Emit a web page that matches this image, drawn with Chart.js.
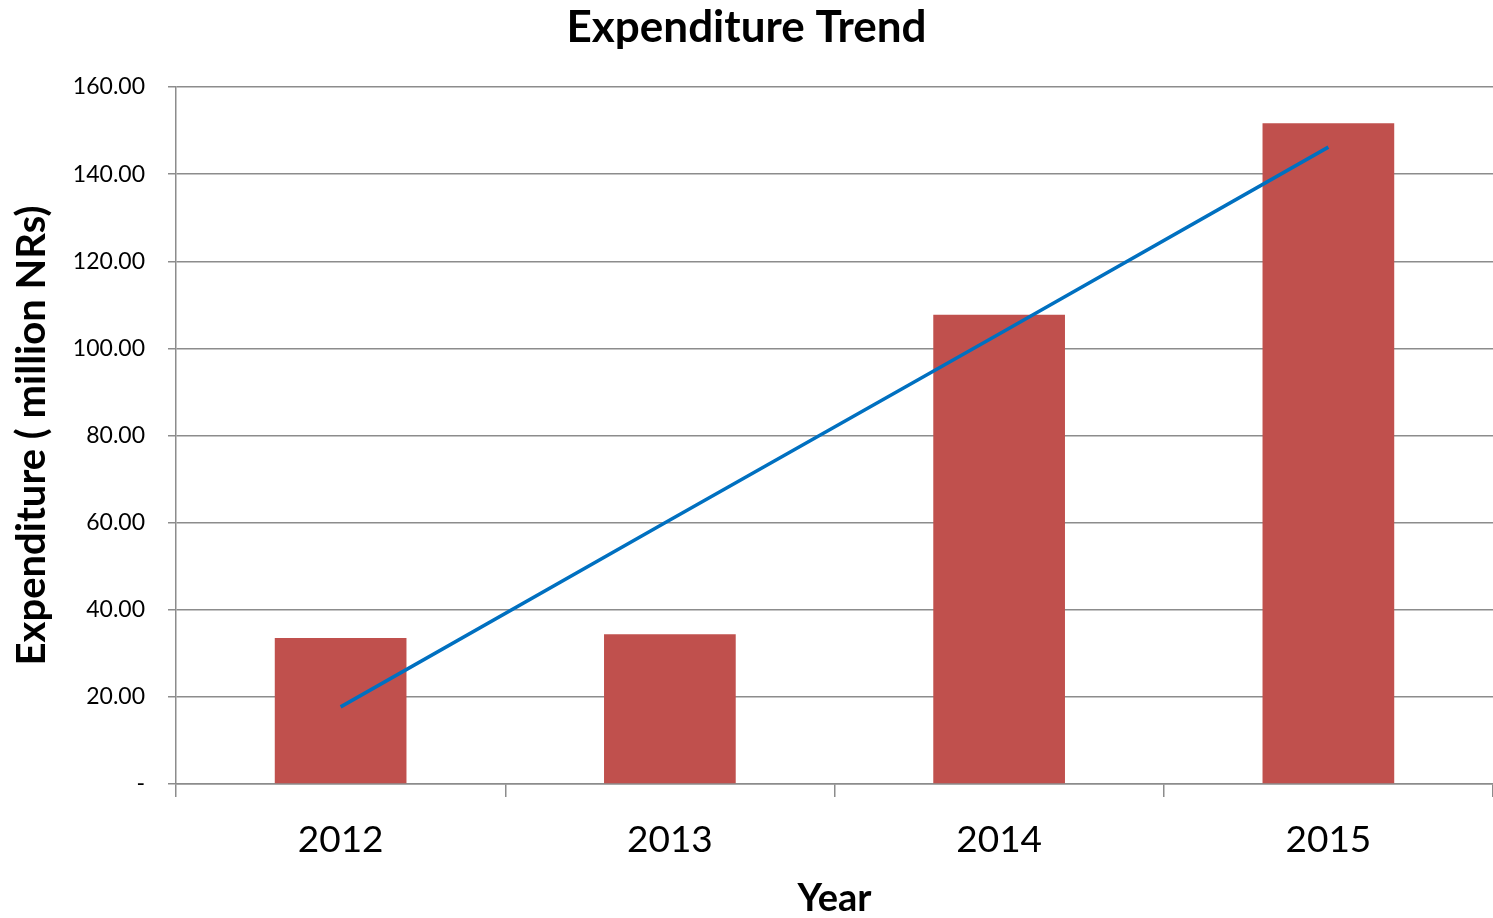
<!DOCTYPE html>
<html>
<head>
<meta charset="utf-8">
<script src="https://cdn.jsdelivr.net/npm/chart.js@4"></script>
<style>
html,body{margin:0;padding:0;background:#fff;}
#wrap{width:1493px;height:918px;position:relative;}
</style>
</head>
<body>
<div id="wrap"><canvas id="c"></canvas></div>
<script>
const years = ['2012', '2013', '2014', '2015'];
const expenditure = [33.5, 34.4, 107.7, 151.7];
const trend = [17.7, 60.6, 103.3, 146.2];
const yTicks = [0, 20, 40, 60, 80, 100, 120, 140, 160];

const FONT = 'Lato, Carlito, "Open Sans", sans-serif';
const GRID = '#8c8c8c';

new Chart(document.getElementById('c'), {
  data: {
    labels: years,
    datasets: [
      {
        type: 'line',
        label: 'Trend',
        data: trend,
        borderColor: '#0070C0',
        borderWidth: 3.5,
        pointRadius: 0,
        fill: false,
        tension: 0,
        order: 0
      },
      {
        type: 'bar',
        label: 'Expenditure',
        data: expenditure,
        backgroundColor: '#C0504D',
        barPercentage: 0.4,
        categoryPercentage: 1.0,
        order: 1
      }
    ]
  },
  options: {
    responsive: true,
    maintainAspectRatio: false,
    animation: false,
    layout: { padding: { left: 0, right: 0, top: 0, bottom: 0 } },
    plugins: {
      legend: { display: false },
      tooltip: { enabled: false },
      title: {
        display: true,
        text: 'Expenditure Trend',
        color: '#000',
        font: { family: FONT, size: 44, weight: 'bold', lineHeight: 1.2 },
        padding: { top: 1, bottom: 33.2 }
      }
    },
    scales: {
      x: {
        offset: true,
        grid: {
          display: true,
          offset: true,
          drawOnChartArea: false,
          drawTicks: true,
          tickLength: 13,
          color: GRID,
          lineWidth: 1.5
        },
        border: { display: true, color: GRID, width: 1.5 },
        ticks: {
          color: '#000',
          font: { family: FONT, size: 37, lineHeight: 1.2 },
          padding: 21,
          maxRotation: 0
        },
        title: {
          display: true,
          text: 'Year',
          color: '#000',
          font: { family: FONT, size: 38, weight: 'bold', lineHeight: 1.0 },
          padding: { top: 0, bottom: 0 }
        },
        afterFit: (s) => { s.height = 134; }
      },
      y: {
        min: 0,
        max: 160,
        afterBuildTicks: (s) => { s.ticks = yTicks.map(v => ({ value: v })); },
        grid: {
          display: true,
          drawOnChartArea: true,
          drawTicks: true,
          tickLength: 8,
          color: GRID,
          lineWidth: 1.5
        },
        border: { display: true, color: GRID, width: 1.5 },
        ticks: {
          color: '#000',
          font: { family: FONT, size: 23 },
          padding: 23,
          callback: (v) => v === 0 ? '-' : Number(v).toFixed(2)
        },
        title: {
          display: true,
          text: 'Expenditure ( million NRs)',
          color: '#000',
          font: { family: FONT, size: 40, weight: 'bold', lineHeight: 1.2 },
          padding: { top: 8, bottom: 0 }
        },
        afterFit: (s) => { s.width = 176; }
      }
    }
  }
});
</script>
</body>
</html>
